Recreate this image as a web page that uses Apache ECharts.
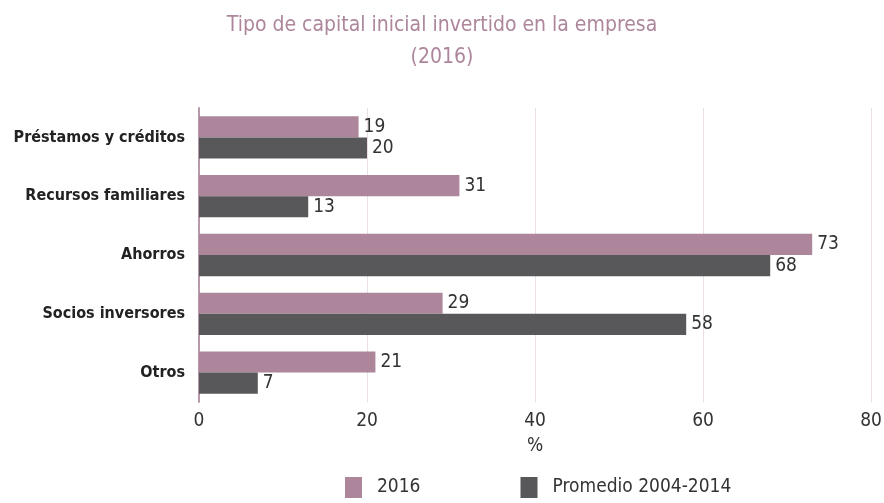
<!DOCTYPE html>
<html>
<head>
<meta charset="utf-8">
<script src="https://cdn.jsdelivr.net/npm/echarts@6/dist/echarts.min.js"></script>
<style>
  html, body { margin: 0; padding: 0; background: #fff; }
  #chart { width: 884px; height: 503px; }
</style>
</head>
<body>
<div id="chart"></div>
<script>
// data
const categories = ['Préstamos y créditos', 'Recursos familiares', 'Ahorros', 'Socios inversores', 'Otros'];
const values2016 = [19, 31, 73, 29, 21];
const valuesPromedio = [20, 13, 68, 58, 7];
const seriesNames = ['2016', 'Promedio 2004-2014'];

const FONT = '"DejaVu Sans Condensed", "Liberation Sans Narrow", sans-serif';
const pink = '#ad869c';
const dark = '#58585a';

const chart = echarts.init(document.getElementById('chart'));

const labelStyle = {
  show: true,
  position: 'right',
  distance: 5,
  color: '#333',
  fontFamily: FONT,
  fontSize: 19
};

chart.setOption({
  animation: false,
  textStyle: { fontFamily: FONT },
  title: {
    text: 'Tipo de capital inicial invertido en la empresa\n(2016)',
    left: 'center',
    top: 5,
    textStyle: {
      color: pink,
      fontFamily: FONT,
      fontSize: 21,
      fontWeight: 'normal',
      lineHeight: 32
    }
  },
  legend: {
    bottom: 0,
    left: 340,
    itemWidth: 17,
    itemHeight: 21,
    itemGap: 100,
    icon: 'rect',
    textStyle: { color: '#333', fontSize: 19, fontFamily: FONT, padding: [0, 0, 0, 10] },
    data: seriesNames
  },
  grid: {
    left: 199,
    right: 13,
    top: 108,
    bottom: 101,
    outerBoundsMode: 'none'
  },
  xAxis: {
    type: 'value',
    min: 0,
    max: 80,
    interval: 20,
    name: '%',
    nameLocation: 'middle',
    nameGap: 35,
    nameTextStyle: { color: '#333', fontSize: 19, fontFamily: FONT },
    axisLine: { show: false },
    axisTick: { show: false },
    axisLabel: { color: '#333', fontSize: 19, fontFamily: FONT, margin: 10 },
    splitLine: { lineStyle: { color: '#e9dfe5', width: 1 } }
  },
  yAxis: {
    type: 'category',
    inverse: true,
    data: categories,
    axisLine: { show: true, lineStyle: { color: '#b899aa', width: 2 } },
    axisTick: { show: false },
    axisLabel: {
      color: '#222',
      fontSize: 16,
      fontWeight: 'bold',
      fontFamily: FONT,
      margin: 14
    }
  },
  series: [
    {
      name: seriesNames[0],
      type: 'bar',
      data: values2016,
      barGap: '0%',
      barCategoryGap: '28%',
      itemStyle: { color: pink },
      label: labelStyle
    },
    {
      name: seriesNames[1],
      type: 'bar',
      data: valuesPromedio,
      itemStyle: { color: dark },
      label: labelStyle
    }
  ]
});
</script>
</body>
</html>
